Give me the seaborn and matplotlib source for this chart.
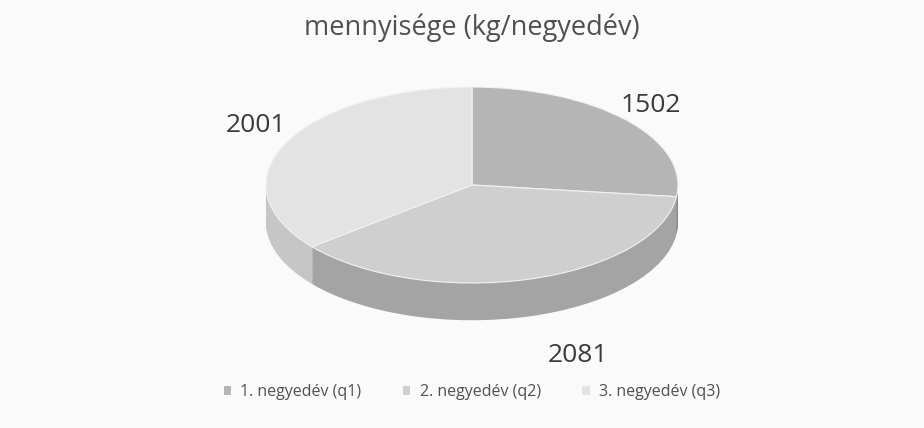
import matplotlib
matplotlib.use("Agg")
import matplotlib.pyplot as plt
import seaborn as sns

sns.set_theme(style="white")
plt.rcParams['font.family'] = ['Open Sans', 'DejaVu Sans']

# ---- data ----
categories = ["1. negyedév (q1)", "2. negyedév (q2)", "3. negyedév (q3)"]
values = [1502, 2081, 2001]
value_labels = [str(v) for v in values]
title = "mennyisége (kg/negyedév)"

# ---- style ----
top_colors = ["#b5b5b5", "#cfcfcf", "#e3e3e3"]
side_colors = ["#8a8a8a", "#a4a4a4", "#c6c6c6"]
bg = "#fafafa"

W, H = 924, 428
fig = plt.figure(figsize=(W / 100, H / 100), dpi=100, facecolor=bg)
ax = fig.add_axes([0, 0, 1, 1])
ax.set_facecolor(bg)

cx, cy = 472, 185   # ellipse centre in pixels (from top-left)
rx, ry = 206, 98    # ellipse radii in pixels


def to_data(px, py):
    return (px - cx) / rx, (cy - py) / ry


depth = 0.38
n = 40
for k in range(n, 0, -1):
    ax.pie(values, colors=side_colors, startangle=90, counterclock=False,
           center=(0, -depth * k / n), radius=1,
           wedgeprops=dict(linewidth=0))

wedges, texts = ax.pie(values, colors=top_colors, startangle=90,
                       counterclock=False, labels=value_labels,
                       labeldistance=1.2, radius=1,
                       textprops=dict(fontsize=19, color="#3a3a3a"),
                       wedgeprops=dict(linewidth=0.8, edgecolor="#f2f2f2"))

label_pix = [(651, 105), (578, 355), (256, 126)]
for t, (px, py) in zip(texts, label_pix):
    t.set_position(to_data(px, py))
    t.set_ha("center")
    t.set_va("center")

ax.set_xlim(-cx / rx, (W - cx) / rx)
ax.set_ylim(-(H - cy) / ry, cy / ry)
ax.set_aspect("auto")
ax.axis("off")

fig.text(cx / W, 1 - 28 / H, title, ha="center", va="center",
         fontsize=19.5, color="#505050")

leg = fig.legend(wedges, categories, loc="center", ncol=3,
                 bbox_to_anchor=(cx / W, 1 - 392 / H), frameon=False,
                 fontsize=11.5, handlelength=0.45, handleheight=0.45,
                 handletextpad=0.6, columnspacing=2.6, labelcolor="#505050")
for h in leg.legend_handles:
    h.set_edgecolor("none")

fig.savefig("out.png", dpi=100, facecolor=bg)
